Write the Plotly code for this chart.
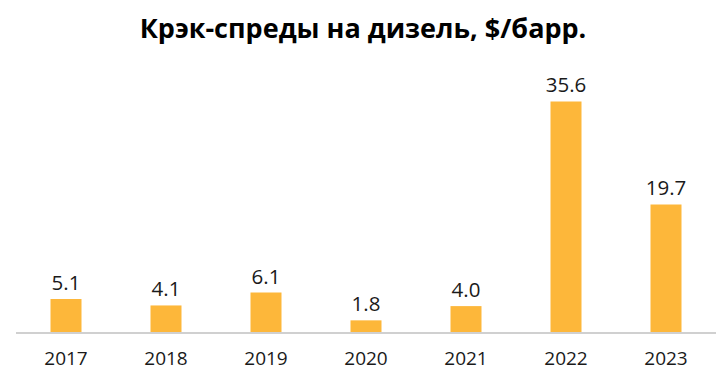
import plotly.graph_objects as go

years = ["2017", "2018", "2019", "2020", "2021", "2022", "2023"]
values = [5.1, 4.1, 6.1, 1.8, 4.0, 35.6, 19.7]
labels = [f"{v:.1f}" for v in values]

fig = go.Figure(go.Bar(
    x=years, y=values, text=labels, textposition="outside",
    constraintext="none",
    marker=dict(color="#FDB73A", line=dict(width=0)),
    width=0.31,
    textfont=dict(family="Open Sans", size=20.5, color="#1a1a1a"),
    cliponaxis=False,
))

fig.update_layout(
    width=726, height=383,
    margin=dict(l=16, r=10, t=73, b=51),
    paper_bgcolor="white", plot_bgcolor="white",
    title=dict(text="<b>Крэк-спреды на дизель, $/барр.</b>", x=0.5, xanchor="center",
               y=0.925, yanchor="middle",
               font=dict(family="Open Sans", size=27, color="black")),
    showlegend=False,
    xaxis=dict(showgrid=False, showline=True, linecolor="#d0d0d0", linewidth=1.5,
               ticks="", ticklabelstandoff=8,
               tickfont=dict(family="Open Sans", size=19, color="#1a1a1a")),
    yaxis=dict(range=[0, 40], visible=False, showgrid=False, zeroline=False),
)

fig.write_html("out.html")
